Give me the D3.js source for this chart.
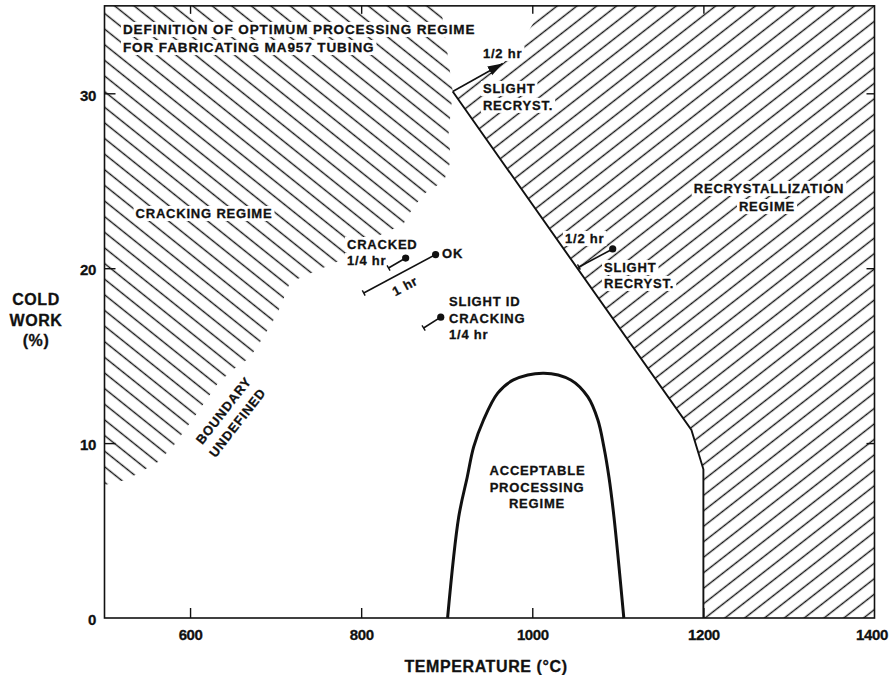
<!DOCTYPE html>
<html><head><meta charset="utf-8">
<script src="https://cdn.jsdelivr.net/npm/d3@7"></script>
<style>
body{margin:0;background:#fff}
text{font-family:"Liberation Sans",Arial,Helvetica,sans-serif;font-weight:bold;fill:#111;stroke:#111;stroke-width:0.3px}
</style>
</head><body>
<svg id="c" width="890" height="675"></svg>
<script>
// ---- data (temperature °C, cold work %) ----
const xTicks = [600, 800, 1000, 1200, 1400];
const yTicks = [0, 10, 20, 30];
const topTicks = [600, 800, 1000, 1200];
const rightTicks = [10, 20, 30];

// acceptable processing regime dome
const domeTemp = [901, 914, 924, 931.5, 943, 959.6, 978, 1013.5, 1045, 1065, 1076.7, 1083.7, 1089.6, 1095.5, 1107];
const domeCW   = [0, 5.77, 8.06, 9.78, 11.32, 12.86, 13.61, 14.0, 13.61, 12.64, 11.32, 9.78, 8.06, 5.77, 0];

// recrystallization boundary line
const recrystLineTemp = [907, 1186, 1200, 1200];
const recrystLineCW   = [30.1, 10.75, 8.5, 0];

// cracking regime (hatched) region outline
const crackTemp = [500, 893, 902, 907, 902, 905, 897, 875, 861, 849, 822, 778, 717, 702, 686, 670, 650, 632, 608, 580, 562, 526, 500];
const crackCW   = [35, 35, 31.9, 30.1, 27.6, 26.2, 25.0, 24.3, 23.5, 22.5, 21.9, 20.5, 19.2, 17.4, 16.1, 14.9, 14.2, 13.4, 11.7, 9.8, 8.9, 7.9, 7.6];

// recrystallization regime (hatched) region outline
const recrystTemp = [907, 965.5, 995, 1013, 1400, 1400, 1200, 1200, 1186];
const recrystCW   = [30.1, 31.7, 33.5, 35, 35, 0, 0, 8.5, 10.75];

// experimental points (dot) and the start of their segments
const ptTemp   = [852, 887, 893, 1094];
const ptCW     = [20.58, 20.78, 17.2, 21.1];
const tailTemp = [832, 803, 873, 1054.5];
const tailCW   = [20.01, 18.58, 16.58, 20.07];

// arrow (1/2 hr slight recryst.)
const arrowTemp = [907, 965.5];
const arrowCW   = [30.1, 31.7];

// annotations: text, temp, cw, anchor, rotation, font size
const labels = [
  ["DEFINITION OF OPTIMUM PROCESSING REGIME", 521.6, 33.39, "start", 0, 13.5],
  ["FOR FABRICATING MA957 TUBING",            521.6, 32.36, "start", 0, 13.5],
  ["CRACKING REGIME",   616.3, 22.87, "middle", 0],
  ["CRACKED",           783.4, 21.10, "start", 0],
  ["1/4 hr",            783.4, 20.18, "start", 0],
  ["OK",                894.5, 20.58, "start", 0],
  ["1 hr",              851.2, 18.98, "middle", -28],
  ["SLIGHT ID",         902.6, 17.84, "start", 0],
  ["CRACKING",          902.6, 16.87, "start", 0],
  ["1/4 hr",            902.6, 15.95, "start", 0],
  ["1/2 hr",            942.3, 32.02, "start", 0],
  ["SLIGHT",            942.3, 30.02, "start", 0],
  ["RECRYST.",          942.3, 29.05, "start", 0],
  ["RECRYSTALLIZATION", 1276.7, 24.30, "middle", 0],
  ["REGIME",            1274.3, 23.27, "middle", 0],
  ["1/2 hr",            1038.2, 21.44, "start", 0],
  ["SLIGHT",            1083.8, 19.78, "start", 0],
  ["RECRYST.",          1083.8, 18.87, "start", 0],
  ["BOUNDARY",          639.2, 11.86, "middle", -52],
  ["UNDEFINED",         655.4, 11.17, "middle", -52],
  ["ACCEPTABLE",        1006.1, 8.18, "middle", 0],
  ["PROCESSING",        1005.5, 7.20, "middle", 0],
  ["REGIME",            1005.5, 6.29, "middle", 0]
];

// ---- drawing ----
const svg = d3.select("#c");
const x = d3.scaleLinear().domain([500, 1400]).range([104.5, 874.5]);
const y = d3.scaleLinear().domain([0, 35]).range([618, 618 - 35 * 17.49]);

const defs = svg.append("defs");
function hatch(id, angle, sp) {
  const p = defs.append("pattern").attr("id", id)
    .attr("patternUnits", "userSpaceOnUse")
    .attr("width", 40).attr("height", sp)
    .attr("patternTransform", `rotate(${angle})`);
  p.append("line").attr("x1", -5).attr("x2", 45).attr("y1", sp / 2).attr("y2", sp / 2)
    .attr("stroke", "#151515").attr("stroke-width", 1.4);
}
hatch("hCrack", 38.7, 12.2);
hatch("hRecr", -38, 12.2);

const marker = defs.append("marker").attr("id", "arr")
  .attr("markerUnits", "userSpaceOnUse").attr("markerWidth", 16).attr("markerHeight", 12)
  .attr("viewBox", "0 0 16 12").attr("refX", 15).attr("refY", 6).attr("orient", "auto");
marker.append("path").attr("d", "M0,1 L15,6 L0,11 Z").attr("fill", "#111");

const line = d3.line().x(d => x(d[0])).y(d => y(d[1]));
const zip = (a, b) => a.map((v, i) => [v, b[i]]);

svg.append("path").datum(zip(crackTemp, crackCW)).attr("d", line)
  .attr("fill", "url(#hCrack)").attr("stroke", "none");
svg.append("path").datum(zip(recrystTemp, recrystCW)).attr("d", line)
  .attr("fill", "url(#hRecr)").attr("stroke", "none");

const knock = svg.append("g");
const marks = svg.append("g");
const texts = svg.append("g");

// frame
marks.append("rect").attr("x", x(500)).attr("y", y(35))
  .attr("width", x(1400) - x(500)).attr("height", y(0) - y(35))
  .attr("fill", "none").attr("stroke", "#111").attr("stroke-width", 1.6);

// axes
const gx = marks.append("g").attr("transform", `translate(0,${y(0)})`)
  .call(d3.axisBottom(x).tickValues(xTicks).tickSize(-10).tickPadding(11).tickFormat(d3.format("d")));
const gy = marks.append("g").attr("transform", `translate(${x(500)},0)`)
  .call(d3.axisLeft(y).tickValues(yTicks).tickSize(-11).tickPadding(8.5).tickFormat(d3.format("d")));
const gt = marks.append("g").attr("transform", `translate(0,${y(35)})`)
  .call(d3.axisTop(x).tickValues(topTicks).tickSize(-8).tickFormat(""));
const gr = marks.append("g").attr("transform", `translate(${x(1400)},0)`)
  .call(d3.axisRight(y).tickValues(rightTicks).tickSize(-8).tickFormat(""));
[gx, gy, gt, gr].forEach(g => {
  g.select(".domain").remove();
  g.selectAll(".tick line").attr("stroke", "#111").attr("stroke-width", 1.4);
  g.selectAll("text").attr("font-size", 15).attr("fill", "#111").attr("letter-spacing", -0.4)
    .style("font-family", '"Liberation Sans",Arial,sans-serif').style("font-weight", "bold");
});
gx.selectAll(".tick").filter(d => d === 1400).select("line").remove();
gx.selectAll(".tick").filter(d => d === 1400).select("text").attr("x", -3);
gy.selectAll(".tick").filter(d => d === 0).select("line").remove();
gy.selectAll("text").attr("dy", "0.45em");

// recrystallization boundary
marks.append("path").datum(zip(recrystLineTemp, recrystLineCW)).attr("d", line)
  .attr("fill", "none").attr("stroke", "#111").attr("stroke-width", 1.9).attr("stroke-linejoin", "miter");

// acceptable dome
marks.append("path").datum(zip(domeTemp, domeCW))
  .attr("d", d3.line().x(d => x(d[0])).y(d => y(d[1])).curve(d3.curveCatmullRom.alpha(0.5)))
  .attr("fill", "none").attr("stroke", "#111").attr("stroke-width", 3);

// arrow
marks.append("path").datum(zip(arrowTemp, arrowCW)).attr("d", line)
  .attr("stroke", "#111").attr("stroke-width", 1.6).attr("fill", "none").attr("marker-end", "url(#arr)");

// experimental points
ptTemp.forEach((t, i) => {
  const x1 = x(t), y1 = y(ptCW[i]), x0 = x(tailTemp[i]), y0 = y(tailCW[i]);
  marks.append("line").attr("x1", x0).attr("y1", y0).attr("x2", x1).attr("y2", y1)
    .attr("stroke", "#111").attr("stroke-width", 1.6);
  const len = Math.hypot(x1 - x0, y1 - y0), nx = -(y1 - y0) / len, ny = (x1 - x0) / len;
  marks.append("line").attr("x1", x0 - nx * 3).attr("y1", y0 - ny * 3).attr("x2", x0 + nx * 3).attr("y2", y0 + ny * 3)
    .attr("stroke", "#111").attr("stroke-width", 1.4);
  marks.append("circle").attr("cx", x1).attr("cy", y1).attr("r", 3.6).attr("fill", "#111");
});

// annotations
labels.forEach(l => {
  const [txt, t, c, anchor, rot, fs] = l;
  const px = x(t), py = y(c);
  const el = texts.append("text").attr("x", px).attr("y", py)
    .attr("text-anchor", anchor).attr("font-size", fs || 13)
    .attr("letter-spacing", fs ? 0.9 : 0.8).text(txt);
  if (rot) el.attr("transform", `rotate(${rot},${px},${py})`).attr("dy", "0.35em");
  else {
    const b = el.node().getBBox();
    knock.append("rect").attr("x", b.x - 2).attr("y", b.y).attr("width", b.width + 4).attr("height", b.height)
      .attr("fill", "#fff");
  }
});

// axis titles
[["COLD", 305], ["WORK", 326], ["(%)", 346]].forEach(([s, b]) =>
  svg.append("text").attr("x", 36).attr("y", b).attr("text-anchor", "middle")
    .attr("font-size", 16).attr("letter-spacing", 0.6).text(s));
svg.append("text").attr("x", 486).attr("y", 672).attr("text-anchor", "middle")
  .attr("font-size", 16).attr("letter-spacing", 0.6).text("TEMPERATURE (°C)");
</script>
</body></html>
